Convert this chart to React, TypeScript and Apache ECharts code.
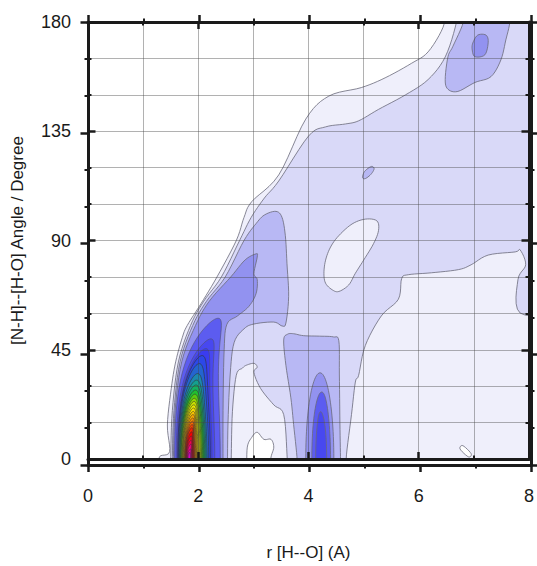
import React, { useEffect, useRef } from "react";
import * as echarts from "echarts";

// ---------- axes ----------
const X_TICKS = [0, 2, 4, 6, 8];
const Y_TICKS = [0, 45, 90, 135, 180];
const X_NAME = "r [H--O] (A)";
const Y_NAME = "[N-H]--[H-O] Angle / Degree";

// ---------- contour level colours (white -> blue) ----------
const LEVEL_COLORS = ["#ffffff", "#efeffb", "#d9d9f8", "#b8b8f4", "#9292f0", "#5c5cf0", "#4848f0"];

// ---------- contour boundaries, points are [r, angle] ----------
const L1_EDGE = [[1.28, -4], [1.3, 1], [1.48, 3], [1.44, 14], [1.51, 29], [1.59, 40], [1.71, 50], [1.8, 55], [2.05, 64], [2.34, 75], [2.69, 90], [2.83, 99.5], [2.97, 106], [3.46, 117], [3.95, 140], [4.37, 149.5], [4.96, 153], [5.39, 157], [5.87, 163], [6.17, 167.7], [6.44, 177.8], [6.5, 186]];
const L2_EDGE = [[1.5, -4], [1.5, 1], [1.53, 20], [1.64, 40], [1.86, 55], [2.1, 65], [2.42, 75], [2.75, 90], [2.96, 99.5], [3.2, 107.5], [3.46, 114.5], [4.0, 133], [4.31, 136.8], [4.67, 138], [4.91, 139.3], [5.27, 144], [5.76, 150], [6.17, 156.3], [6.48, 165.6], [6.68, 179.5], [6.69, 186]];
const VALLEY_RIGHT = [[8.6, 59.7], [7.84, 60.1], [7.8, 73.9], [7.94, 80.0], [7.84, 86.1], [7.75, 85.3], [7.26, 84.0], [6.95, 80.0], [6.72, 78.0], [6.23, 76.7], [5.81, 75.9], [5.69, 74.3], [5.63, 65.8], [5.32, 58.9], [5.03, 46.7], [4.91, 34.5], [4.85, 31.7], [4.78, 18.3], [4.69, 2.0], [4.69, -4]];
const ISLAND = [[4.28, 76.5], [4.31, 72.4], [4.43, 69.7], [4.55, 69.0], [4.73, 71.7], [4.85, 76.5], [5.0, 81.9], [5.18, 88.7], [5.27, 94.1], [5.24, 98.1], [5.03, 98.8], [4.79, 96.8], [4.55, 92.0], [4.4, 87.3], [4.31, 81.9]];
const VALLEY_MID = [[2.6, -4], [2.6, 2], [2.62, 19.5], [2.69, 34.5], [2.8, 37.4], [2.87, 38.6], [3.01, 39.4], [3.07, 37.8], [3.01, 35.7], [3.13, 29.1], [3.37, 22.3], [3.55, 18.3], [3.61, 2], [3.61, -4]];
const BLANK_MID = [[2.88, -4], [2.89, 4.9], [2.97, 8.9], [3.07, 11], [3.19, 8.1], [3.32, 8.1], [3.37, 4.9], [3.32, 0.8], [3.3, -4]];
const BLANK_RIGHT = [[6.75, 4.1], [6.8, 5.5], [6.95, 2.2], [6.9, 0.9]];
const L3_RIDGE = [[1.53, -4], [1.53, 1], [1.56, 20], [1.67, 40], [1.9, 55], [2.15, 65], [2.49, 75], [2.83, 90], [3.05, 97], [3.2, 100.5], [3.41, 102], [3.52, 99.5], [3.58, 92], [3.61, 80.4], [3.64, 67], [3.59, 56], [3.52, 54.8], [3.37, 56.4], [3.01, 55.6], [2.83, 53.6], [2.65, 47.9], [2.58, 35], [2.54, 15], [2.53, -4]];
const L3_COLUMN = [[3.79, -4], [3.79, 1], [3.73, 14.2], [3.68, 25.2], [3.59, 38.6], [3.55, 49], [3.62, 51.4], [3.73, 51.6], [3.91, 50.8], [4.2, 50.6], [4.45, 50.3], [4.55, 48.7], [4.56, 35], [4.57, 15], [4.58, 1], [4.58, -4]];
const L3_TOP = [[6.8, 186], [6.81, 180], [6.62, 170], [6.53, 165.7], [6.48, 156.3], [6.53, 152.3], [6.71, 151.4], [7.02, 155.1], [7.31, 157.5], [7.49, 164.4], [7.58, 172.6], [7.65, 179.5], [7.66, 186]];
const L3_SPOT = [[4.98, 116], [5.02, 118.5], [5.14, 120.5], [5.19, 119.5], [5.13, 117.2], [5.03, 115.5]];
const L4_RIDGE = [[1.55, -4], [1.55, 1], [1.58, 20], [1.7, 40], [1.95, 55], [2.2, 65], [2.59, 75], [2.85, 82], [3.05, 84.5], [3.07, 83.2], [3.01, 76.3], [3.07, 73.9], [3.05, 68.2], [2.92, 62.9], [2.71, 58.9], [2.52, 55.5], [2.47, 45], [2.45, 20], [2.45, -4]];
const L4_TOP = [[6.98, 171.3], [7.07, 174.6], [7.22, 174.6], [7.26, 171.7], [7.2, 166.5], [7.02, 165.7], [6.97, 168.5]];

// ---------- second maximum near r = 4.2 (levels 4, 5, 6) ----------
const COL_LEVEL = [4, 5, 6];
const COL_APEX_A = [35.5, 27.6, 19.5];
const COL_APEX_R = [4.21, 4.24, 4.22];
const COL_LEFT_R = [3.95, 4.06, 4.13];
const COL_RIGHT_R = [4.46, 4.4, 4.33];

// ---------- main maximum near r = 1.85 ----------
const PEAK_APEX_A = [58, 49.5, 45.5, 42.6, 39.3, 35.2, 32.5, 30.5, 28.4, 26.7, 25.0, 23.7, 22.3, 21.0, 19.6, 18.3, 16.9, 15.6, 14.2, 12.9, 11.2, 9.5, 7.7, 6.1, 4.1, 2.7];
const PEAK_APEX_R = [2.36, 2.23, 2.14, 2.07, 2.02, 1.99, 1.97, 1.96, 1.95, 1.94, 1.93, 1.925, 1.92, 1.915, 1.91, 1.905, 1.9, 1.895, 1.89, 1.885, 1.88, 1.875, 1.87, 1.865, 1.86, 1.845];
const PEAK_LEFT_R = [1.57, 1.6, 1.62, 1.63, 1.64, 1.65, 1.66, 1.67, 1.68, 1.69, 1.7, 1.71, 1.72, 1.725, 1.73, 1.74, 1.75, 1.76, 1.765, 1.77, 1.78, 1.785, 1.79, 1.8, 1.805, 1.815];
const PEAK_RIGHT_R = [2.4, 2.3, 2.25, 2.22, 2.19, 2.16, 2.14, 2.12, 2.1, 2.08, 2.06, 2.04, 2.02, 2.0, 1.985, 1.97, 1.955, 1.94, 1.93, 1.92, 1.91, 1.9, 1.89, 1.88, 1.87, 1.86];
const PEAK_COLORS = ["#5c5cf0", "#4848f0", "#3a3cf0", "#2c48e8", "#2464d0", "#1c88b0", "#14a090", "#14b060", "#20c030", "#58cc10", "#98d800", "#c8e000", "#e8e800", "#f8dc00", "#f8c400", "#f8a800", "#f88c00", "#f86800", "#f84400", "#f82000", "#f80000", "#f80020", "#f80050", "#f80080", "#f000a8", "#e000c8"];

type Shape = { pts: number[][]; frame: number[][]; closed: boolean; smooth: boolean; fill: string; stroke: string; lw: number };

function arch(bl: number, br: number, ar: number, aa: number): number[][] {
  const c = (bl + br) / 2;
  const hw = (br - bl) / 2;
  const s = ar - c;
  const out: number[][] = [[br, -4]];
  const n = 48;
  for (let i = 0; i <= n; i++) {
    const t = (Math.PI * i) / n;
    const sn = Math.sin(t);
    out.push([c + hw * Math.cos(t) + s * Math.pow(sn, 4), aa * sn]);
  }
  out.push([bl, -4]);
  return out;
}

const LOW_STROKE = "#6a6a7a";
const SHAPES: Shape[] = [];
const add = (pts: number[][], level: number, frame: number[][] = [], closed = false) =>
  SHAPES.push({ pts, frame, closed, smooth: true, fill: LEVEL_COLORS[level], stroke: LOW_STROKE, lw: 0.8 });

add(L1_EDGE, 1, [[8.6, 186], [8.6, -4]]);
add(L2_EDGE, 2, [[8.6, 186], [8.6, -4]]);
add(VALLEY_RIGHT, 1, [[8.6, -4]]);
add(ISLAND, 1, [], true);
add(VALLEY_MID, 1);
add(BLANK_MID, 0);
add(BLANK_RIGHT, 0, [], true);
add(L3_RIDGE, 3);
add(L3_COLUMN, 3);
add(L3_TOP, 3);
add(L3_SPOT, 3, [], true);
add(L4_RIDGE, 4);
add(L4_TOP, 4, [], true);
COL_LEVEL.forEach((lv, i) => {
  SHAPES.push({ pts: arch(COL_LEFT_R[i], COL_RIGHT_R[i], COL_APEX_R[i], COL_APEX_A[i]), frame: [], closed: false, smooth: false, fill: LEVEL_COLORS[lv], stroke: LOW_STROKE, lw: 0.8 });
});
PEAK_APEX_A.forEach((aa, i) => {
  SHAPES.push({ pts: arch(PEAK_LEFT_R[i], PEAK_RIGHT_R[i], PEAK_APEX_R[i], aa), frame: [], closed: false, smooth: false, fill: PEAK_COLORS[i], stroke: i < 3 ? "#505070" : "#333333", lw: 0.6 });
});

function catmull(pts: number[][], closed: boolean, seg = 6): number[][] {
  const n = pts.length;
  if (n < 3) return pts;
  const get = (i: number) => (closed ? pts[(i + n) % n] : pts[Math.max(0, Math.min(n - 1, i))]);
  const out: number[][] = [];
  const last = closed ? n : n - 1;
  for (let i = 0; i < last; i++) {
    const p0 = get(i - 1), p1 = get(i), p2 = get(i + 1), p3 = get(i + 2);
    for (let k = 0; k < seg; k++) {
      const t = k / seg, t2 = t * t, t3 = t2 * t;
      const f = (j: number) =>
        0.5 * (2 * p1[j] + (-p0[j] + p2[j]) * t + (2 * p0[j] - 5 * p1[j] + 4 * p2[j] - p3[j]) * t2 + (-p0[j] + 3 * p1[j] - 3 * p2[j] + p3[j]) * t3);
      out.push([f(0), f(1)]);
    }
  }
  if (!closed) out.push(pts[n - 1]);
  return out;
}

const FONT = "'Liberation Sans', Arial, Helvetica, sans-serif";
const INK = "#1a1a1a";
const GRID = { left: 88, right: 6, top: 22, bottom: 101 };
const GRIDLINE = { color: "rgba(70,70,70,0.42)", width: 1 };

function xAxisCfg(grid: number, position: string, inside: boolean, main: boolean) {
  return {
    type: "value", gridIndex: grid, position, min: X_TICKS[0], max: X_TICKS[X_TICKS.length - 1], interval: X_TICKS[1] - X_TICKS[0], z: 10,
    axisLine: { show: true, onZero: false, lineStyle: { color: INK, width: 3 } },
    axisTick: { show: true, inside, length: 7, lineStyle: { color: INK, width: 2.5 } },
    minorTick: { show: true, splitNumber: 2, length: 3.5, lineStyle: { color: INK, width: 2 } },
    axisLabel: { show: main, fontSize: 18, margin: 28, color: INK, fontFamily: FONT },
    splitLine: { show: main, lineStyle: GRIDLINE },
    minorSplitLine: { show: main, lineStyle: GRIDLINE },
    name: main ? X_NAME : "", nameLocation: "middle", nameGap: 85,
    nameTextStyle: { fontSize: 17, color: INK, fontFamily: FONT },
  };
}
function yAxisCfg(grid: number, position: string, inside: boolean, main: boolean) {
  return {
    type: "value", gridIndex: grid, position, min: Y_TICKS[0], max: Y_TICKS[Y_TICKS.length - 1], interval: Y_TICKS[1] - Y_TICKS[0], z: 10,
    axisLine: { show: true, onZero: false, lineStyle: { color: INK, width: 3 } },
    axisTick: { show: true, inside, length: 7.5, lineStyle: { color: INK, width: 2.5 } },
    minorTick: { show: true, splitNumber: 3, length: 3.5, lineStyle: { color: INK, width: 2 } },
    axisLabel: { show: main, fontSize: 18, margin: 17, color: INK, fontFamily: FONT },
    splitLine: { show: main, lineStyle: GRIDLINE },
    minorSplitLine: { show: main, lineStyle: GRIDLINE },
    name: main ? Y_NAME : "", nameLocation: "middle", nameGap: 62,
    nameTextStyle: { fontSize: 17, color: INK, fontFamily: FONT },
  };
}

export default function App() {
  const ref = useRef<HTMLDivElement>(null);
  useEffect(() => {
    document.body.style.margin = "0";
    const chart = echarts.init(ref.current!, null, { renderer: "svg" });
    chart.setOption({
      animation: false,
      backgroundColor: "#ffffff",
      grid: [{ ...GRID }, { ...GRID }],
      xAxis: [xAxisCfg(0, "bottom", true, true), xAxisCfg(0, "top", true, false), xAxisCfg(1, "bottom", false, false), xAxisCfg(1, "top", false, false)],
      yAxis: [yAxisCfg(0, "left", true, true), yAxisCfg(0, "right", true, false), yAxisCfg(1, "left", false, false), yAxisCfg(1, "right", false, false)],
      series: [
        {
          type: "custom",
          xAxisIndex: 0,
          yAxisIndex: 0,
          clip: true,
          silent: true,
          z: 1,
          encode: { x: 0, y: 1 },
          data: SHAPES.map((_, i) => [4, 90, i]),
          renderItem: (params: any, api: any) => {
            const s = SHAPES[api.value(2)];
            let pts = s.pts.map((p) => api.coord(p));
            if (s.smooth) pts = catmull(pts, s.closed);
            pts = pts.concat(s.frame.map((p) => api.coord(p)));
            return {
              type: "polygon",
              shape: { points: pts },
              style: { fill: s.fill, stroke: s.stroke, lineWidth: s.lw },
            };
          },
        },
      ],
    });
    return () => chart.dispose();
  }, []);
  return <div ref={ref} style={{ position: "fixed", left: 0, top: 0, width: 537, height: 566 }} />;
}
